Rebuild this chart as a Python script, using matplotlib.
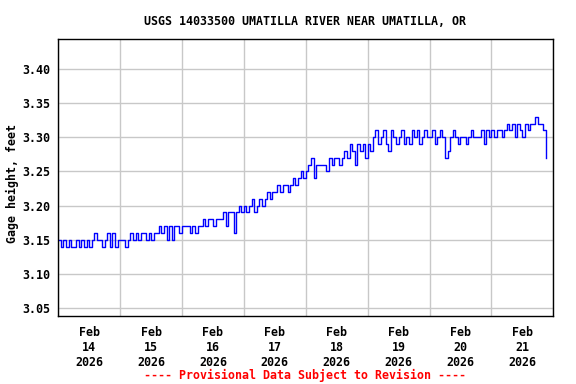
import numpy as np
import pandas as pd
import matplotlib
matplotlib.use("Agg")
import matplotlib.pyplot as plt
import matplotlib.dates as mdates

# ── Data: hourly gage height, hundredths of a foot above 3.00 ─────────────────
feb14 = [15, 14, 15, 14, 15, 14, 14, 15, 14, 15, 14, 15, 14, 15,
         16, 15, 15, 14, 15, 16, 14, 16, 14, 15]
feb15 = [15, 15, 14, 15, 16, 15, 16, 15, 16, 16, 15, 16, 15,
         16, 16, 17, 16, 17, 15, 17, 15, 17, 17, 16]
feb16 = [17, 17, 17, 16, 17, 16, 17, 17, 18, 17, 18, 18, 17, 18, 18,
         18, 19, 17, 19, 19, 16, 19, 20, 19]
feb17 = [20, 19, 20, 21, 19, 20, 21, 20, 21, 22, 21, 22, 22,
         23, 22, 23, 23, 22, 23, 24, 23, 24, 25, 24]
feb18 = [25, 26, 27, 24, 26, 26, 26, 26, 25, 27, 26, 27, 27, 26, 27,
         28, 27, 29, 28, 26, 29, 28, 29, 27]
feb19 = [29, 28, 30, 31, 29, 30, 31, 29, 28, 31, 30, 29, 30, 31, 29,
         30, 29, 31, 30, 31, 29, 30, 31, 30]
feb20 = [30, 31, 29, 30, 31, 30, 27, 28, 30, 31, 30, 29, 30, 30, 29,
         30, 31, 30, 30, 30, 31, 29, 31, 30]
feb21 = [31, 30, 31, 31, 30, 31, 32, 31, 32, 30, 32, 31, 30,
         32, 31, 32, 32, 33, 32, 32, 31, 27]

title = "USGS 14033500 UMATILLA RIVER NEAR UMATILLA, OR"
ylabel = "Gage height, feet"
footer = "---- Provisional Data Subject to Revision ----"

hundredths = feb14 + feb15 + feb16 + feb17 + feb18 + feb19 + feb20 + feb21
gage = 3.0 + np.array(hundredths) / 100.0
times = pd.date_range("2026-02-14 00:00", periods=len(gage), freq="h")

# ── Plot ──────────────────────────────────────────────────────────────────────
mono = "DejaVu Sans Mono"
fs = 8.4

fig = plt.figure(figsize=(5.76, 3.84), dpi=100)
ax = fig.add_axes([0.1012, 0.1771, 0.8594, 0.7206])

ax.plot(times, gage, color="#0000ff", linewidth=1.0, drawstyle="steps-post")

ax.set_xlim(pd.Timestamp("2026-02-14"), pd.Timestamp("2026-02-22"))
ax.set_ylim(3.0383, 3.4435)

ax.xaxis.set_major_locator(mdates.DayLocator())
ax.xaxis.set_major_formatter(plt.NullFormatter())
ax.xaxis.set_minor_locator(mdates.HourLocator(byhour=12))
ax.xaxis.set_minor_formatter(mdates.DateFormatter("%b\n%d\n%Y"))
ax.set_yticks(np.arange(3.05, 3.401, 0.05))
ax.yaxis.set_major_formatter(plt.FuncFormatter(lambda v, p: f"{v:.2f}"))

ax.tick_params(axis="both", which="both", length=0)
ax.tick_params(axis="x", which="minor", pad=7.5)
ax.tick_params(axis="y", pad=6)
for lbl in ax.get_xticklabels(minor=True) + ax.get_yticklabels():
    lbl.set_fontfamily(mono)
    lbl.set_fontweight("bold")
    lbl.set_fontsize(fs)

ax.grid(True, which="major", color="#c8c8c8", linewidth=1.0)
ax.set_axisbelow(True)
for sp in ax.spines.values():
    sp.set_linewidth(1.0)
    sp.set_color("black")

fig.text(0.530, 0.945, title, ha="center", va="center",
         fontfamily=mono, fontweight="bold", fontsize=fs)
fig.text(0.021, 0.522, ylabel, ha="center", va="center", rotation=90,
         fontfamily=mono, fontweight="bold", fontsize=fs)
fig.text(0.530, 0.021, footer, ha="center", va="center", color="#ff0000",
         fontfamily=mono, fontweight="bold", fontsize=fs)

fig.savefig("out.png", dpi=100)
